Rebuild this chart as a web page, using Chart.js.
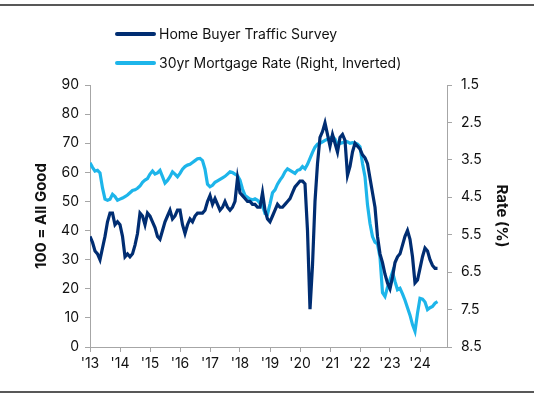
<!DOCTYPE html>
<html>
<head>
<meta charset="utf-8">
<script src="https://cdn.jsdelivr.net/npm/chart.js@4/dist/chart.umd.min.js"></script>
<style>
  html, body { margin: 0; padding: 0; background: #fff; }
  #wrap { width: 534px; height: 397px; position: relative; }
</style>
</head>
<body>
<div id="wrap"><canvas id="chart" width="534" height="397"></canvas></div>
<script>
// monthly, Jan 2013 .. Aug 2024
const startYear = 2013;
const yearTicks = [0, 12, 24, 36, 48, 60, 72, 84, 96, 108, 120, 132];

const traffic = [
  38, 36, 33, 32, 30, 34, 38, 43, 46, 46, 42, 43,   // 2013
  42, 38, 31, 32, 31, 32, 35, 39, 46, 45, 42, 46,   // 2014
  45, 43, 41, 38, 37, 40, 43, 45, 47, 44, 45, 47,   // 2015
  47, 42, 39, 42, 44, 43, 45, 46, 46, 46, 47, 50,   // 2016
  52, 49, 51, 49, 47, 48, 50, 48, 47, 48, 50, 58,   // 2017
  53, 52, 51, 50, 50, 49, 49, 48, 48, 53, 47, 44,   // 2018
  43, 45, 47, 49, 48, 48, 49, 50, 51, 53, 55, 56,   // 2019
  57, 57, 56, 40, 13, 28, 50, 63, 72, 74, 77, 73,   // 2020
  69, 73, 70, 67, 72, 73, 71, 59, 62, 67, 70, 69,   // 2021
  68, 66, 65, 63, 58, 53, 48, 38, 32, 29, 25, 22,   // 2022
  20, 24, 29, 31, 32, 35, 38, 40, 37, 31, 22, 23,   // 2023
  27, 31, 34, 33, 30, 28, 27, 27                    // 2024
];

const mortgageRate = [
  3.58, 3.70, 3.80, 3.78, 3.85, 4.25, 4.55, 4.58, 4.55, 4.42, 4.48, 4.58,  // 2013
  4.55, 4.52, 4.48, 4.44, 4.38, 4.32, 4.30, 4.26, 4.20, 4.10, 4.04, 4.00,  // 2014
  3.88, 3.80, 3.88, 3.85, 3.78, 3.95, 4.12, 4.05, 3.95, 3.82, 3.88, 3.95,  // 2015
  3.86, 3.75, 3.68, 3.64, 3.62, 3.57, 3.52, 3.47, 3.46, 3.52, 3.75, 4.15,  // 2016
  4.22, 4.18, 4.10, 4.06, 4.02, 3.98, 3.94, 3.88, 3.82, 3.84, 3.88, 3.92,  // 2017
  4.04, 4.28, 4.45, 4.50, 4.55, 4.57, 4.54, 4.58, 4.66, 4.72, 4.93, 4.95,  // 2018
  4.68, 4.38, 4.30, 4.15, 4.04, 3.95, 3.82, 3.74, 3.78, 3.82, 3.86, 3.78,  // 2019
  3.76, 3.68, 3.74, 3.62, 3.46, 3.30, 3.16, 3.08, 3.06, 3.02, 2.98, 2.95,  // 2020
  2.92, 2.88, 2.95, 3.10, 3.06, 3.04, 3.01, 3.02, 3.06, 3.04, 3.05, 3.08,  // 2021
  3.15, 3.60, 3.95, 4.70, 5.20, 5.55, 5.70, 5.75, 6.10, 7.05, 7.15, 6.90,  // 2022
  6.70, 6.50, 6.75, 6.97, 6.93, 7.08, 7.25, 7.45, 7.65, 7.90, 8.08, 7.60,  // 2023
  7.20, 7.22, 7.30, 7.50, 7.45, 7.42, 7.33, 7.29                           // 2024
];

const seriesNames = ['Home Buyer Traffic Survey', '30yr Mortgage Rate (Right, Inverted)'];
const seriesColors = ['#002D72', '#1DB5EA'];

const FONT = 'Inter, "Noto Sans", sans-serif';

// horizontal rules + stacked legend drawn on the canvas
const decorations = {
  id: 'decorations',
  afterDraw(chart) {
    const ctx = chart.ctx;
    ctx.save();
    ctx.strokeStyle = '#222';
    ctx.lineWidth = 1.5;
    ctx.beginPath();
    ctx.moveTo(0, 5); ctx.lineTo(chart.width, 5);
    ctx.moveTo(0, 392); ctx.lineTo(chart.width, 392);
    ctx.stroke();

    ctx.font = '14px ' + FONT;
    ctx.textBaseline = 'middle';
    ctx.lineCap = 'round';
    chart.data.datasets.forEach((ds, i) => {
      const y = 34 + i * 29;
      ctx.strokeStyle = ds.borderColor;
      ctx.lineWidth = 4;
      ctx.beginPath();
      ctx.moveTo(117, y); ctx.lineTo(154, y);
      ctx.stroke();
      ctx.fillStyle = '#111';
      ctx.fillText(ds.label, 159, y + 1);
    });
    ctx.restore();
  }
};

const toPoints = arr => arr.map((v, i) => ({ x: i, y: v }));

new Chart(document.getElementById('chart'), {
  type: 'line',
  data: {
    datasets: [
      {
        label: seriesNames[0],
        data: toPoints(traffic),
        yAxisID: 'y',
        borderColor: seriesColors[0],
        borderWidth: 3.2,
        pointRadius: 0,
        tension: 0
      },
      {
        label: seriesNames[1],
        data: toPoints(mortgageRate),
        yAxisID: 'y2',
        borderColor: seriesColors[1],
        borderWidth: 3.2,
        pointRadius: 0,
        tension: 0
      }
    ]
  },
  options: {
    responsive: false,
    animation: false,
    layout: { padding: { top: 85, left: 0, right: 0, bottom: 0 } },
    plugins: {
      legend: { display: false },
      tooltip: { enabled: false }
    },
    scales: {
      x: {
        type: 'linear',
        min: 0,
        max: 142.8,
        afterBuildTicks: scale => { scale.ticks = yearTicks.map(v => ({ value: v })); },
        afterFit: scale => { scale.height = 50; },
        border: { display: true, color: '#a6a6a6', width: 1 },
        grid: { drawOnChartArea: false, drawTicks: true, tickLength: 5, color: '#a6a6a6' },
        ticks: {
          color: '#111',
          font: { family: FONT, size: 14 },
          padding: 3,
          maxRotation: 0,
          callback: v => "'" + String(startYear + v / 12).slice(2)
        }
      },
      y: {
        position: 'left',
        min: 0,
        max: 90,
        afterFit: scale => { scale.width = 90; },
        border: { display: true, color: '#a6a6a6', width: 1 },
        grid: { drawOnChartArea: false, drawTicks: true, tickLength: 5, color: '#a6a6a6' },
        ticks: { stepSize: 10, color: '#111', font: { family: FONT, size: 14 }, padding: 6 },
        title: {
          display: true,
          text: '100 = All Good',
          color: '#111',
          font: { family: FONT, size: 15, weight: 'bold' },
          padding: { top: 32, bottom: 0 }
        }
      },
      y2: {
        position: 'right',
        reverse: true,
        min: 1.5,
        max: 8.5,
        afterFit: scale => { scale.width = 87; },
        border: { display: true, color: '#a6a6a6', width: 1 },
        grid: { drawOnChartArea: false, drawTicks: true, tickLength: 5, color: '#a6a6a6' },
        ticks: {
          stepSize: 1,
          color: '#111',
          font: { family: FONT, size: 14 },
          padding: 9,
          callback: v => v.toFixed(1)
        },
        title: {
          display: true,
          text: 'Rate (%)',
          color: '#111',
          font: { family: FONT, size: 15, weight: 'bold' },
          padding: { top: 23, bottom: 0 }
        }
      }
    }
  },
  plugins: [decorations]
});
</script>
</body>
</html>
